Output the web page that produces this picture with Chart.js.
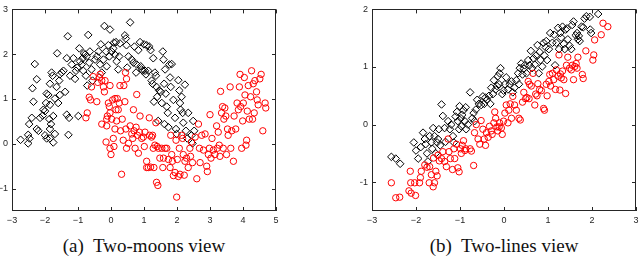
<!DOCTYPE html>
<html>
<head>
<meta charset="utf-8">
<script src="https://cdn.jsdelivr.net/npm/chart.js@4.4.1/dist/chart.umd.min.js"></script>
<style>
  body { margin:0; background:#fff; width:640px; height:268px; overflow:hidden; position:relative; }
  .box { position:absolute; top:0; width:290px; height:232px; }
  .cap { position:absolute; top:235px; width:288px; text-align:center;
         font-family:"Liberation Serif","DejaVu Serif",serif; font-size:19px; color:#111; }
</style>
</head>
<body>
<div class="box" style="left:0"><canvas id="moons"></canvas></div>
<div class="box" style="left:360px"><canvas id="lines"></canvas></div>
<div class="cap" style="left:0">(a)&nbsp; Two-moons view</div>
<div class="cap" style="left:360px">(b)&nbsp; Two-lines view</div>
<script>
// axis ticks
const moonsXTicks = [-3,-2,-1,0,1,2,3,4,5];
const moonsYTicks = [-1,0,1,2,3];
const linesXTicks = [-3,-2,-1,0,1,2,3];
const linesYTicks = [-1,0,1,2];

// (a) two moons - black diamonds
const moonsDiamonds = [
[-2.74,0.09],[-2.51,0.01],[-2.47,0.12],[-2.51,0.20],[-2.38,1.24],[-2.35,0.94],[-2.31,1.78],[-2.25,1.44],
[-2.40,0.58],[-2.48,0.44],[-2.25,0.33],[-2.20,0.29],[-2.15,0.58],[-2.07,0.63],[-2.05,0.76],[-2.00,0.73],
[-1.97,0.91],[-1.95,1.12],[-1.90,1.09],[-1.85,1.34],[-1.80,1.59],[-1.77,1.52],[-1.85,0.87],[-1.87,0.55],
[-1.85,0.33],[-1.82,0.44],[-2.00,0.19],[-1.95,0.12],[-1.85,0.12],[-1.75,0.03],[-1.70,0.22],[-1.75,0.62],
[-1.70,1.01],[-1.65,1.27],[-1.60,0.91],[-1.55,1.09],[-1.63,2.02],[-1.57,1.41],[-1.55,1.55],[-1.49,1.59],
[-1.44,1.63],[-1.39,1.16],[-1.34,1.91],[-1.31,2.40],[-1.29,0.20],[-1.34,0.65],[-1.27,0.58],[-1.24,1.52],
[-1.19,1.77],[-1.14,1.91],[-1.09,1.45],[-1.06,1.63],[-1.02,1.70],[-0.99,0.62],[-0.96,2.13],[-0.94,1.84],
[-0.89,1.77],[-0.86,1.91],[-0.84,1.63],[-0.82,2.02],[-0.79,1.99],[-0.76,1.52],[-0.74,1.95],[-0.72,1.30],
[-0.69,2.43],[-0.66,1.81],[-0.64,2.06],[-0.59,1.66],[-0.56,1.41],[-0.48,1.88],[-0.43,1.95],[-0.38,2.06],
[-0.33,1.77],[-0.31,2.22],[-0.28,1.59],[-0.23,1.88],[-0.20,2.63],[-0.15,2.06],[-0.13,1.73],[-0.08,2.20],
[-0.05,1.95],[-0.03,2.55],[0.02,2.06],[0.07,2.13],[0.09,2.26],[0.12,1.99],[0.15,2.27],[0.17,1.84],
[0.22,1.66],[0.25,1.95],[0.27,2.24],[0.42,2.42],[0.45,2.35],[0.47,2.20],[0.49,1.70],[0.53,1.95],
[0.58,2.71],[0.63,1.88],[0.68,1.81],[0.71,2.17],[0.76,1.59],[0.78,1.77],[0.83,2.09],[0.88,2.27],
[0.90,1.73],[0.93,1.66],[0.96,1.63],[1.00,2.22],[1.03,1.63],[1.06,1.55],[1.08,2.20],[1.13,1.63],
[1.16,2.17],[1.20,2.09],[1.23,1.41],[1.26,1.34],[1.28,1.91],[1.30,0.94],[1.33,1.59],[1.36,1.52],
[1.38,1.27],[1.40,1.05],[1.43,0.51],[1.46,1.19],[1.51,1.16],[1.54,0.91],[1.57,2.06],[1.59,1.88],
[1.61,1.34],[1.62,0.44],[1.64,1.66],[1.66,1.12],[1.69,0.83],[1.72,0.69],[1.74,0.37],[1.77,1.77],
[1.79,1.48],[1.81,1.27],[1.84,1.78],[1.89,0.98],[1.94,0.58],[1.97,0.33],[1.99,0.22],[2.04,1.42],
[2.07,1.19],[2.09,0.91],[2.11,0.76],[2.14,1.05],[2.17,0.69],[2.19,0.47],[2.24,1.32],[2.27,0.29],
[2.31,0.12],[2.34,0.69],[2.44,0.19],[2.47,0.01],[2.49,0.51],[2.52,0.29]
];
// (a) two moons - red circles
const moonsCircles = [
[-0.76,0.58],[-0.72,0.69],[-0.66,1.04],[-0.62,0.98],[-0.59,1.27],[-0.54,1.50],[-0.43,0.94],[-0.40,1.37],
[-0.35,1.48],[-0.33,1.55],[-0.28,1.41],[-0.23,1.27],[-0.20,1.16],[-0.18,1.41],[-0.15,0.04],[-0.13,0.40],
[-0.11,0.62],[-0.08,0.91],[-0.05,0.83],[-0.03,1.30],[-0.03,-0.10],[0.00,-0.24],[0.02,0.55],[0.05,0.98],
[0.07,0.12],[0.09,-0.06],[0.12,0.33],[0.12,1.01],[0.15,0.76],[0.17,0.51],[0.19,1.01],[0.22,0.76],
[0.25,0.91],[0.27,1.30],[0.29,0.29],[0.32,-0.68],[0.34,0.55],[0.37,0.08],[0.39,1.30],[0.42,0.94],
[0.44,1.59],[0.45,0.33],[0.47,-0.10],[0.47,1.45],[0.53,0.01],[0.58,0.40],[0.63,0.22],[0.66,0.12],
[0.68,0.76],[0.70,0.29],[0.73,-0.10],[0.76,0.37],[0.78,1.10],[0.80,0.19],[0.83,-0.21],[0.86,0.26],
[0.88,0.62],[0.93,0.12],[0.98,0.15],[1.01,-0.06],[1.03,0.26],[1.08,-0.39],[1.08,-0.53],[1.13,-0.53],
[1.16,0.58],[1.17,0.19],[1.20,-0.52],[1.23,0.15],[1.26,0.19],[1.28,-0.10],[1.30,-0.53],[1.33,-0.03],
[1.36,0.47],[1.38,-0.86],[1.40,-0.06],[1.42,-0.93],[1.44,-0.10],[1.48,-0.32],[1.54,-0.10],[1.57,-0.53],
[1.59,-0.32],[1.64,-0.10],[1.69,-0.10],[1.74,-0.35],[1.79,-0.53],[1.81,0.19],[1.84,-0.24],[1.86,-0.39],
[1.89,-0.71],[1.94,-0.64],[1.97,0.08],[1.99,-1.19],[2.01,-0.35],[2.04,-0.73],[2.07,-0.10],[2.09,-0.68],
[2.14,0.19],[2.17,0.12],[2.19,-0.24],[2.22,-0.70],[2.24,-0.39],[2.29,-0.32],[2.34,-0.53],[2.39,-0.10],
[2.41,-0.28],[2.44,0.04],[2.47,-0.42],[2.55,0.15],[2.60,-0.78],[2.65,0.44],[2.68,-0.10],[2.70,-0.42],
[2.75,0.19],[2.80,-0.14],[2.85,0.22],[2.90,-0.50],[2.92,-0.62],[2.95,-0.24],[2.98,-0.10],[3.00,0.65],
[3.03,-0.32],[3.06,0.12],[3.10,-0.14],[3.15,-0.24],[3.20,0.40],[3.22,-0.10],[3.25,0.26],[3.28,-0.03],
[3.30,-0.28],[3.32,1.17],[3.35,0.69],[3.38,0.83],[3.40,-0.10],[3.42,0.55],[3.45,0.80],[3.48,0.62],
[3.50,-0.24],[3.53,0.33],[3.55,0.19],[3.61,1.27],[3.63,-0.10],[3.66,0.29],[3.71,-0.39],[3.73,0.62],
[3.78,0.33],[3.82,0.91],[3.86,0.76],[3.89,1.27],[3.91,1.55],[3.93,0.83],[3.96,-0.10],[3.99,0.51],
[4.01,0.91],[4.04,1.48],[4.06,1.09],[4.09,-0.03],[4.11,0.08],[4.13,0.73],[4.16,1.30],[4.19,0.55],
[4.23,1.05],[4.26,1.63],[4.29,0.55],[4.31,1.34],[4.34,0.69],[4.36,1.41],[4.41,1.16],[4.43,0.98],
[4.46,0.87],[4.51,1.45],[4.55,1.55],[4.60,0.29],[4.67,0.91],[4.69,0.80],[-0.28,0.44],[-0.13,0.55],[-0.03,0.69]
];
// (b) two lines - black diamonds
const linesDiamonds = [
[-2.56,-0.56],[-2.46,-0.59],[-2.36,-0.68],[-2.05,-0.31],[-2.00,-0.45],[-1.95,-0.59],[-1.89,-0.39],[-1.84,-0.14],
[-1.80,-0.25],[-1.78,-0.34],[-1.75,-0.50],[-1.73,-0.64],[-1.69,-0.20],[-1.65,-0.31],[-1.63,-0.42],[-1.61,-0.06],
[-1.58,-0.20],[-1.55,-0.50],[-1.52,-0.31],[-1.50,-0.25],[-1.48,-0.08],[-1.45,-0.36],[-1.42,0.35],[-1.39,0.15],
[-1.35,-0.06],[-1.33,-0.30],[-1.27,0.06],[-1.23,-0.08],[-1.20,0.00],[-1.16,-0.20],[-1.14,-0.31],[-1.10,0.14],
[-1.07,0.22],[-1.05,0.06],[-1.02,-0.08],[-1.01,0.32],[-0.98,0.11],[-0.97,-0.03],[-0.95,0.17],[-0.92,0.25],
[-0.89,0.06],[-0.87,0.30],[-0.86,-0.08],[-0.82,0.00],[-0.77,0.56],[-0.72,0.11],[-0.69,0.20],[-0.67,0.06],
[-0.64,0.26],[-0.61,0.43],[-0.57,0.36],[-0.52,0.34],[-0.48,0.49],[-0.45,0.36],[-0.42,0.47],[-0.39,0.43],
[-0.34,0.50],[-0.31,0.36],[-0.29,0.64],[-0.25,0.53],[-0.23,0.77],[-0.19,0.61],[-0.16,0.67],[-0.14,0.84],
[-0.11,0.70],[-0.10,0.89],[-0.08,0.98],[-0.04,0.53],[-0.01,0.59],[0.02,0.70],[0.05,0.82],[0.09,0.61],
[0.13,0.70],[0.17,0.75],[0.20,0.56],[0.24,0.64],[0.28,0.77],[0.32,0.89],[0.34,0.70],[0.36,0.98],
[0.39,1.06],[0.42,0.87],[0.45,0.97],[0.47,1.03],[0.51,0.89],[0.55,1.12],[0.58,1.03],[0.61,1.28],
[0.64,0.98],[0.67,1.15],[0.70,1.04],[0.73,1.20],[0.76,1.38],[0.79,0.89],[0.81,1.26],[0.83,1.12],
[0.87,1.01],[0.90,1.42],[0.92,1.20],[0.95,1.34],[0.96,1.45],[0.98,1.12],[1.02,1.31],[1.05,1.59],
[1.10,1.42],[1.14,1.56],[1.16,1.03],[1.19,1.42],[1.23,1.68],[1.25,1.31],[1.28,1.59],[1.30,1.51],
[1.33,1.70],[1.36,1.40],[1.38,1.31],[1.40,1.65],[1.43,1.67],[1.45,1.48],[1.49,1.37],[1.53,1.31],
[1.55,1.73],[1.58,1.79],[1.63,1.55],[1.66,1.59],[1.68,1.48],[1.70,1.54],[1.72,1.45],[1.76,1.70],
[1.80,1.69],[1.83,1.84],[1.87,1.88],[1.95,1.87],[1.96,1.65],[1.98,1.59],[2.14,1.92]
];
// (b) two lines - red circles
const linesCircles = [
[-2.56,-1.01],[-2.46,-1.27],[-2.37,-1.26],[-2.16,-1.15],[-2.13,-0.81],[-2.11,-1.19],[-2.12,-1.01],[-2.03,-1.01],
[-2.01,-1.23],[-1.92,-1.01],[-1.90,-0.92],[-1.88,-0.81],[-1.80,-0.70],[-1.75,-0.74],[-1.70,-1.01],[-1.69,-0.73],
[-1.65,-0.87],[-1.61,-1.08],[-1.60,-0.58],[-1.58,-1.01],[-1.55,-0.81],[-1.52,-0.89],[-1.50,-0.53],[-1.47,-0.63],
[-1.42,-0.59],[-1.39,-0.47],[-1.35,-0.64],[-1.31,-0.73],[-1.27,-0.25],[-1.25,-0.47],[-1.22,-0.59],[-1.17,-0.78],
[-1.14,-0.42],[-1.12,-0.59],[-1.08,-0.34],[-1.05,-0.75],[-1.02,-0.82],[-0.99,-0.42],[-0.97,-0.50],[-0.95,-0.36],
[-0.92,-0.28],[-0.89,-0.45],[-0.87,-0.42],[-0.77,-0.42],[-0.74,-0.46],[-0.69,-0.71],[-0.67,-0.14],[-0.63,0.00],
[-0.59,-0.25],[-0.55,-0.34],[-0.52,0.07],[-0.48,-0.08],[-0.45,-0.25],[-0.42,-0.36],[-0.40,-0.14],[-0.36,-0.22],
[-0.33,-0.03],[-0.29,-0.11],[-0.27,-0.17],[-0.23,0.03],[-0.21,0.22],[-0.19,0.11],[-0.16,-0.04],[-0.14,-0.11],
[-0.11,-0.04],[-0.10,0.03],[-0.06,-0.06],[-0.04,-0.17],[-0.01,0.06],[0.02,0.20],[0.05,0.34],[0.09,0.03],
[0.11,0.25],[0.14,0.36],[0.17,0.11],[0.20,0.49],[0.24,0.34],[0.28,0.25],[0.34,0.11],[0.37,0.08],
[0.42,0.39],[0.45,0.56],[0.49,0.45],[0.52,0.47],[0.55,0.75],[0.57,0.45],[0.58,0.70],[0.62,0.67],
[0.66,0.89],[0.70,0.34],[0.72,0.53],[0.75,0.50],[0.77,0.71],[0.81,0.61],[0.85,0.59],[0.90,0.28],
[0.92,0.25],[0.96,0.70],[0.98,0.50],[1.02,0.75],[1.04,0.87],[1.06,0.67],[1.10,0.89],[1.13,0.78],
[1.17,0.61],[1.19,0.95],[1.23,0.84],[1.25,1.21],[1.27,0.60],[1.28,0.88],[1.30,0.81],[1.33,0.93],
[1.36,0.78],[1.40,0.54],[1.42,1.03],[1.45,1.17],[1.49,0.98],[1.53,0.95],[1.55,1.03],[1.58,0.78],
[1.61,1.01],[1.64,1.06],[1.66,0.98],[1.68,1.17],[1.78,0.87],[1.80,0.80],[1.86,1.28],[2.02,1.12],
[2.04,1.21],[2.06,1.47],[2.21,1.56],[2.25,1.76],[2.36,1.70]
];

const fmt = v => String(v).replace('-', '\u2212');

// matlab style box with inward ticks on all four sides
const boxTicks = {
  id: 'boxTicks',
  afterDraw(chart) {
    const ctx = chart.ctx, a = chart.chartArea, sx = chart.scales.x, sy = chart.scales.y;
    ctx.save();
    ctx.strokeStyle = '#262626';
    ctx.lineWidth = 1;
    ctx.strokeRect(Math.round(a.left) + 0.5, Math.round(a.top) + 0.5,
                   Math.round(a.width) - 1, Math.round(a.height) - 1);
    ctx.beginPath();
    sx.ticks.forEach(t => {
      const p = Math.round(sx.getPixelForValue(t.value)) + 0.5;
      ctx.moveTo(p, a.bottom); ctx.lineTo(p, a.bottom - 4);
      ctx.moveTo(p, a.top); ctx.lineTo(p, a.top + 4);
    });
    sy.ticks.forEach(t => {
      const p = Math.round(sy.getPixelForValue(t.value)) + 0.5;
      ctx.moveTo(a.left, p); ctx.lineTo(a.left + 4, p);
      ctx.moveTo(a.right, p); ctx.lineTo(a.right - 4, p);
    });
    ctx.stroke();
    ctx.restore();
  }
};

function makeChart(id, diamonds, circles, xr, yr, xTicks, yTicks) {
  const tickFont = { family: '"Liberation Sans", Arial, sans-serif', size: 9 };
  return new Chart(document.getElementById(id), {
    type: 'scatter',
    data: {
      datasets: [
        { data: circles.map(p => ({ x: p[0], y: p[1] })), pointStyle: 'circle', pointRadius: 3.2,
          borderColor: '#ff0000', backgroundColor: 'rgba(0,0,0,0)', borderWidth: 1, order: 1 },
        { data: diamonds.map(p => ({ x: p[0], y: p[1] })), pointStyle: 'rectRot', pointRadius: 3.8,
          borderColor: '#000000', backgroundColor: 'rgba(0,0,0,0)', borderWidth: 1, order: 2 }
      ]
    },
    options: {
      responsive: true,
      maintainAspectRatio: false,
      animation: false,
      devicePixelRatio: 1,
      layout: { padding: { top: 3, right: 14, left: 0, bottom: 0 } },
      plugins: { legend: { display: false }, tooltip: { enabled: false } },
      elements: { point: { hoverRadius: 3.5 } },
      scales: {
        x: {
          type: 'linear', min: xr[0], max: xr[1],
          afterBuildTicks: s => { s.ticks = xTicks.map(v => ({ value: v })); },
          afterFit: s => { s.height = 21; },
          grid: { display: false, drawTicks: false },
          border: { display: false },
          ticks: { font: tickFont, color: '#262626', padding: 4, callback: v => fmt(v), maxRotation: 0, autoSkip: false }
        },
        y: {
          type: 'linear', min: yr[0], max: yr[1],
          afterBuildTicks: s => { s.ticks = yTicks.map(v => ({ value: v })); },
          afterFit: s => { s.width = 12; },
          grid: { display: false, drawTicks: false },
          border: { display: false },
          ticks: { font: tickFont, color: '#262626', padding: 4, callback: v => fmt(v), autoSkip: false }
        }
      }
    },
    plugins: [boxTicks]
  });
}

makeChart('moons', moonsDiamonds, moonsCircles, [-3, 5], [-1.5, 3], moonsXTicks, moonsYTicks);
makeChart('lines', linesDiamonds, linesCircles, [-3, 3], [-1.5, 2], linesXTicks, linesYTicks);
</script>
</body>
</html>
